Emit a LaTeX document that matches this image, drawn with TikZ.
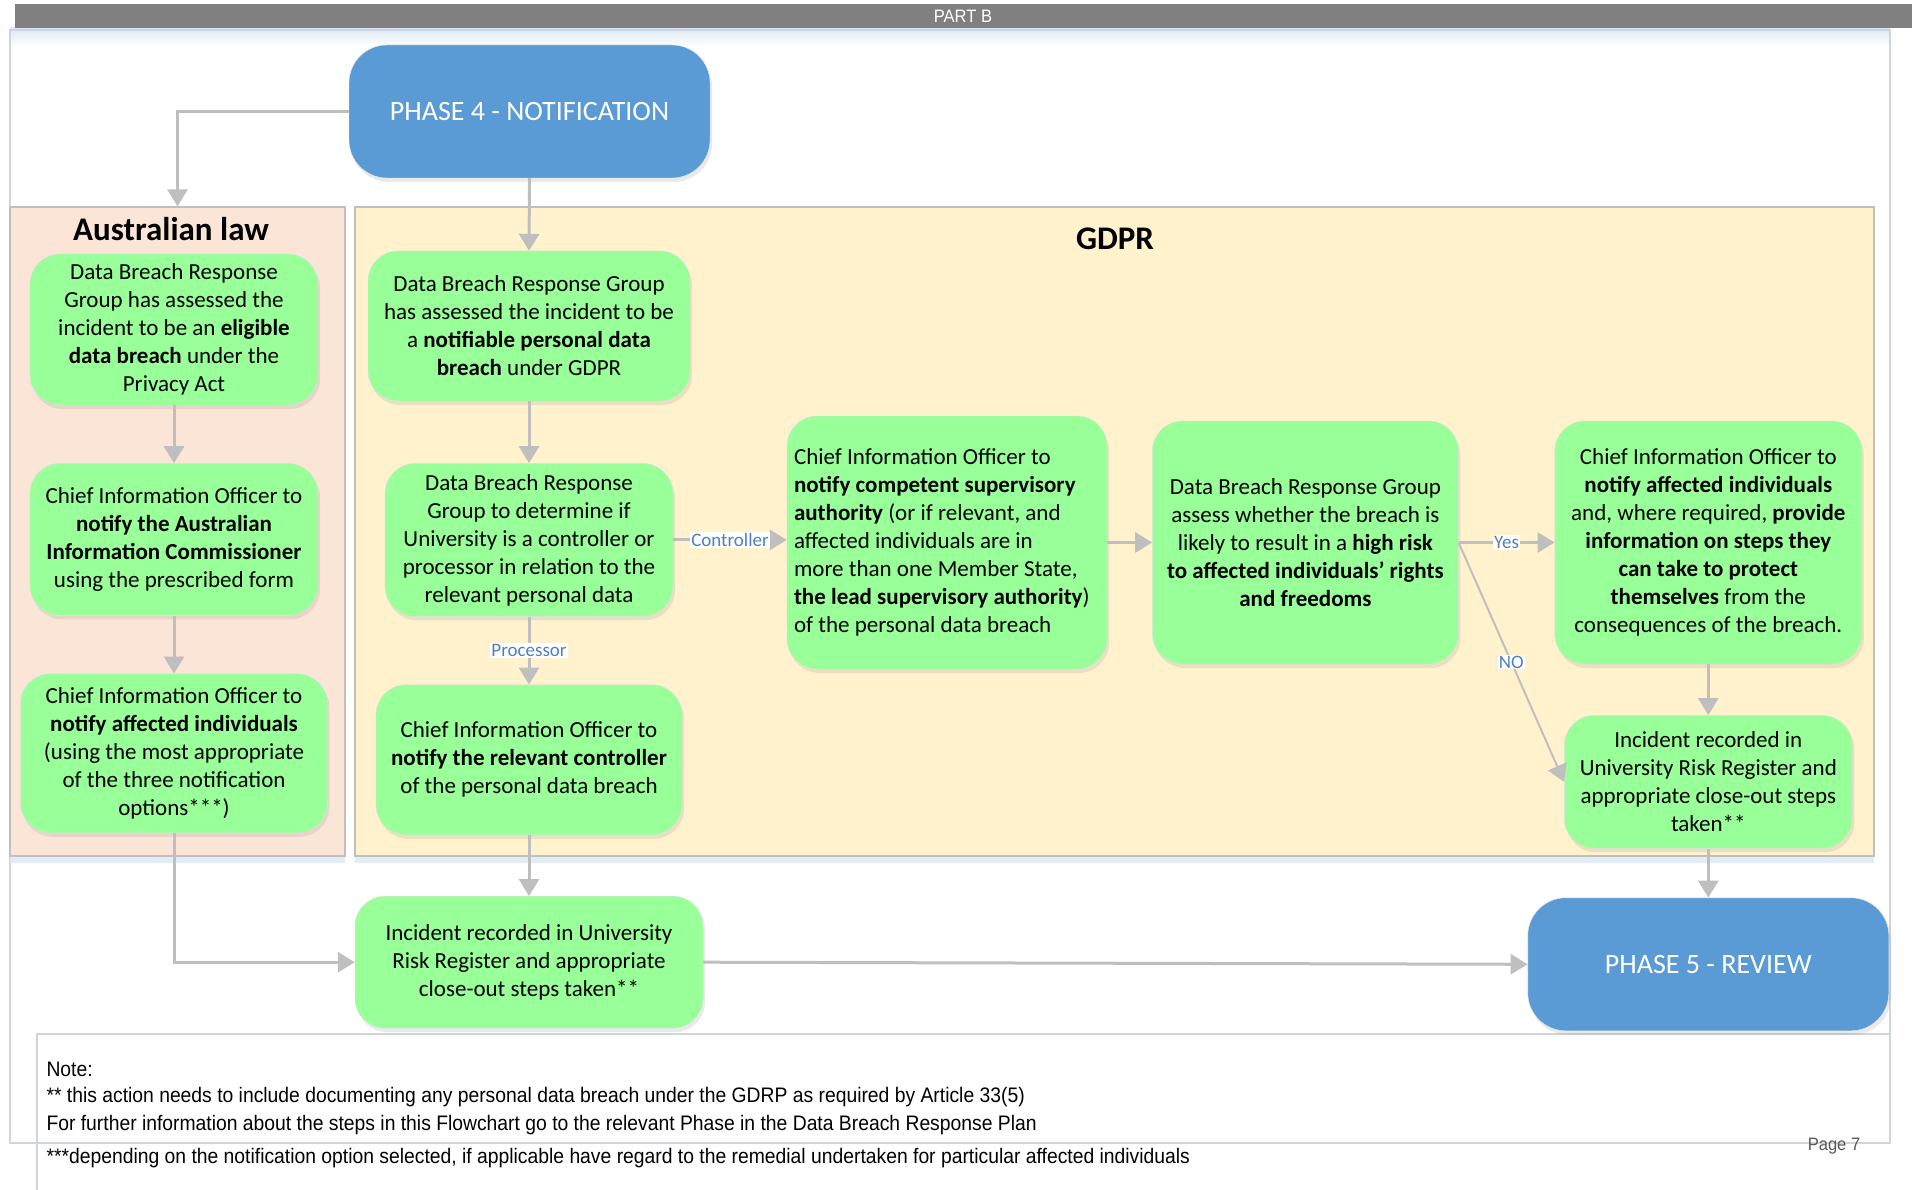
\documentclass[tikz,border=0pt]{standalone}
\usepackage{fontspec}
\setmainfont{Carlito}
\newfontfamily\notefamily[FakeStretch=0.92]{Liberation Sans}
\usetikzlibrary{arrows.meta, positioning, shadows}

\definecolor{boxgreen}{HTML}{99FF99}
\definecolor{phblue}{HTML}{5B9BD5}
\definecolor{aupeach}{HTML}{FBE5D6}
\definecolor{gdpryellow}{HTML}{FFF2CC}
\definecolor{arrgray}{HTML}{BFBFBF}
\definecolor{lblblue}{HTML}{4F81BD}
\definecolor{bargray}{HTML}{808080}
\definecolor{framegray}{HTML}{D0D5DC}
\definecolor{frameblue}{HTML}{DCE8F5}

\newcommand{\boxfont}{\fontsize{23}{28}\selectfont}
\newcommand{\phfont}{\fontsize{28}{32}\selectfont}
\newcommand{\lblfont}{\fontsize{19}{22}\selectfont}
\newcommand{\notefont}{\notefamily\fontsize{21}{25}\selectfont}

\tikzset{
  gbox/.style = {
    rectangle, rounded corners=30pt,
    draw=black!12, fill=boxgreen, align=center,
    font=\boxfont, inner sep=4pt,
    drop shadow={shadow xshift=2pt, shadow yshift=-4pt, opacity=0.2, fill=black!40}
  },
  phbox/.style = {
    rectangle, rounded corners=38pt,
    draw=black!10, fill=phblue, text=white,
    font=\phfont, minimum width=361pt, minimum height=133pt,
    drop shadow={shadow xshift=2pt, shadow yshift=-4pt, opacity=0.2, fill=black!40}
  },
  panel/.style = {
    rectangle, draw=arrgray, line width=1.2pt, inner sep=0pt,
    minimum height=649pt,
    drop shadow={shadow xshift=0pt, shadow yshift=-7pt, opacity=0.8, fill=frameblue}
  },
  title/.style = {font=\fontsize{33}{38}\selectfont\bfseries},
  arr/.style  = {-{Triangle[length=17pt, width=20pt]}, line width=3pt, arrgray},
  lbl/.style  = {fill=white, text=lblblue, font=\lblfont, inner sep=1pt}
}

\begin{document}
\begin{tikzpicture}[x=1pt, y=-1pt]
\useasboundingbox[fill=white] (0,0) rectangle (1912,1190);

% page frame
\shade[top color=frameblue, bottom color=white] (10,28) rectangle (1890,46);
\fill[bargray] (15,4) rectangle (1912,28);
\node[text=white, font=\notefamily\fontsize{18}{20}\selectfont] (partb) at (963,16) {PART B};
\draw[framegray, line width=1.2pt] (10,30) rectangle (1890,1143);
\draw[framegray, line width=1.2pt] (37,1190) -- (37,1034) -- (1890,1034);

% panels
\node[panel, fill=aupeach, minimum width=335pt] (aulaw) at (177.5,531.5) {};
\node[panel, fill=gdpryellow, minimum width=1519pt] (gdpr) at (1114.5,531.5) {};
\node[title] (autitle) at (171,229) {Australian law};
\node[title] (gdprtitle) at (1115,239) {GDPR};

\node[phbox] (ph4) at (529.5,111.5) {PHASE 4 - NOTIFICATION};

% Australian law
\node[gbox, minimum width=288pt, minimum height=151pt] (aubox1) at (174,329.5)
      {Data Breach Response\\Group has assessed the\\incident to be an \textbf{eligible}\\\textbf{data breach} under the\\Privacy Act};
\node[gbox, below=58pt of aubox1, minimum width=288pt, minimum height=152pt] (aubox2)
      {Chief Information Officer to\\\textbf{notify the Australian}\\\textbf{Information Commissioner}\\using the prescribed form};
\node[gbox, below=58pt of aubox2, minimum width=307pt, minimum height=159pt] (aubox3)
      {Chief Information Officer to\\\textbf{notify affected individuals}\\(using the most appropriate\\of the three notification\\options***)};

% GDPR
\node[gbox, minimum width=322pt, minimum height=150pt] (g1) at (529,326)
      {Data Breach Response Group\\has assessed the incident to be\\a \textbf{notifiable personal data}\\\textbf{breach} under GDPR};
\node[gbox, below=62pt of g1, minimum width=288pt, minimum height=153pt] (g2)
      {Data Breach Response\\Group to determine if\\University is a controller or\\processor in relation to the\\relevant personal data};
\node[gbox, below=68pt of g2, minimum width=306pt, minimum height=150pt] (g3)
      {Chief Information Officer to\\\textbf{notify the relevant controller}\\of the personal data breach};
\node[gbox, align=flush left, text width=306pt, inner sep=7pt, minimum height=253pt] (g4) at (947,542.5)
      {Chief Information Officer to\\\textbf{notify competent supervisory}\\\textbf{authority} (or if relevant, and\\affected individuals are in\\more than one Member State,\\\textbf{the lead supervisory authority})\\of the personal data breach};
\node[gbox, right=45pt of g4, minimum width=306pt, minimum height=243pt] (g5)
      {Data Breach Response Group\\assess whether the breach is\\likely to result in a \textbf{high risk}\\\textbf{to affected individuals' rights}\\\textbf{and freedoms}};
\node[gbox, right=96pt of g5, minimum width=307pt, minimum height=243pt] (g6)
      {Chief Information Officer to\\\textbf{notify affected individuals}\\and, where required, \textbf{provide}\\\textbf{information on steps they}\\\textbf{can take to protect}\\\textbf{themselves} from the\\consequences of the breach.};
\node[gbox, below=51pt of g6, minimum width=288pt, minimum height=133pt] (g7)
      {Incident recorded in\\University Risk Register and\\appropriate close-out steps\\taken**};

% close-out
\node[gbox, below=61pt of g3, minimum width=348pt, minimum height=132pt] (inc)
      {Incident recorded in University\\Risk Register and appropriate\\close-out steps taken**};
\node[phbox, below=49pt of g7] (ph5) {PHASE 5 - REVIEW};

% connectors
\draw[arr] (ph4.west) -| (aulaw.north);
\draw[arr] (ph4.south) -- (g1.north);
\foreach \a/\b in {aubox1/aubox2, aubox2/aubox3, g1/g2, g3/inc, g6/g7, g7/ph5}
  \draw[arr] (\a.south) -- (\b.north);
\draw[arr] (g2.south) -- node[lbl] {Processor} (g3.north);
\draw[arr] (g2.east) -- node[lbl] {Controller} (g2.east -| g4.west);
\draw[arr] (g4.east) -- (g5.west);
\draw[arr] (g5.east) -- node[lbl] {Yes} (g6.west);
\draw[arr, line width=2pt] (g5.east) -- node[lbl] {NO} (g7.west);
\draw[arr] (aubox3.south) |- (inc.west);
\draw[arr] (inc.east) -- (ph5.west);

% notes
\node[font=\notefont, anchor=west] (note) at (43,1069) {Note:};
\node[font=\notefont, anchor=west] (note1) at (43,1097) {** this action needs to include documenting any personal data breach under the GDRP as required by Article 33(5)};
\node[font=\notefont, anchor=west] (note2) at (43,1125) {For further information about the steps in this Flowchart go to the relevant Phase in the Data Breach Response Plan};
\node[font=\notefont, anchor=west] (note3) at (43,1158) {***depending on the notification option selected, if applicable have regard to the remedial undertaken for particular affected individuals};
\node[font=\notefamily\fontsize{18}{21}\selectfont, text=black!65] (page) at (1834,1146) {Page 7};

\end{tikzpicture}
\end{document}
